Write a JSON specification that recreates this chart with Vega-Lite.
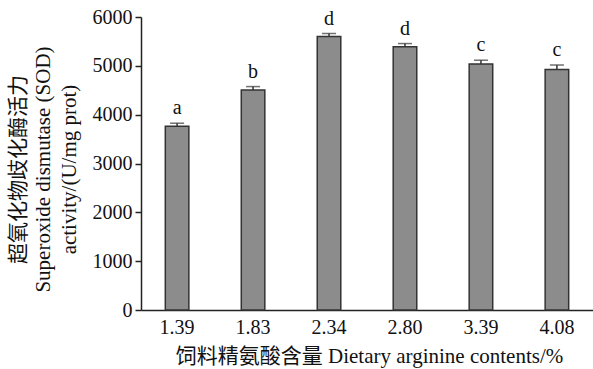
{
  "$schema": "https://vega.github.io/schema/vega-lite/v6.json",
  "width": 452,
  "height": 293,
  "autosize": {"type": "none"},
  "padding": {"left": 141, "top": 17, "right": 0, "bottom": 59},
  "background": "white",
  "data": {"values": [
    {"dose": "1.39", "sod": 3765, "err": 60, "sig": "a"},
    {"dose": "1.83", "sod": 4505, "err": 70, "sig": "b"},
    {"dose": "2.34", "sod": 5600, "err": 62, "sig": "d"},
    {"dose": "2.80", "sod": 5390, "err": 66, "sig": "d"},
    {"dose": "3.39", "sod": 5035, "err": 80, "sig": "c"},
    {"dose": "4.08", "sod": 4925, "err": 92, "sig": "c"}
  ]},
  "config": {
    "view": {"stroke": null},
    "font": "Liberation Serif, Noto Sans CJK SC",
    "axis": {"grid": false, "domainColor": "#222", "tickColor": "#222", "labelColor": "#111", "titleColor": "#111", "labelFont": "Liberation Serif", "titleFont": "Liberation Serif, Noto Sans CJK SC", "titleFontWeight": "normal", "labelFontSize": 20, "titleFontSize": 21, "domainWidth": 1.5, "tickWidth": 1.5}
  },
  "transform": [{"calculate": "datum.sod + datum.err", "as": "top"}],
  "encoding": {
    "x": {"field": "dose", "type": "nominal", "sort": null,
      "scale": {"paddingInner": 0.69, "paddingOuter": 0.32},
      "axis": {"title": "饲料精氨酸含量 Dietary arginine contents/%", "labelAngle": 0, "ticks": false, "labelPadding": 7, "titleX": 228, "titleY": 46, "titleBaseline": "middle", "titleAlign": "center"}}
  },
  "layer": [
    {
      "mark": {"type": "bar", "color": "#8c8c8c", "stroke": "#333", "strokeWidth": 1.5},
      "encoding": {
        "y": {"field": "sod", "type": "quantitative",
          "scale": {"domain": [0, 6000], "nice": false},
          "axis": {"values": [0, 1000, 2000, 3000, 4000, 5000, 6000], "format": "d", "tickSize": 6, "labelPadding": 3,
            "title": ["超氧化物歧化酶活力", "Superoxide dismutase (SOD)", "activity/(U/mg prot)"],
            "titleAngle": -90, "titleX": -134, "titleY": 152, "titleBaseline": "top", "titleAlign": "center", "titleLineHeight": 25.5}}
      }
    },
    {
      "mark": {"type": "rule", "color": "#333", "strokeWidth": 1.5},
      "encoding": {
        "y": {"field": "sod", "type": "quantitative"},
        "y2": {"field": "top"}
      }
    },
    {
      "mark": {"type": "tick", "color": "#333", "thickness": 1.5, "size": 14, "orient": "horizontal"},
      "encoding": {
        "y": {"field": "top", "type": "quantitative"}
      }
    },
    {
      "mark": {"type": "text", "fontSize": 20, "dy": -9, "baseline": "alphabetic", "color": "#111", "font": "Liberation Serif"},
      "encoding": {
        "y": {"field": "top", "type": "quantitative"},
        "text": {"field": "sig"}
      }
    }
  ]
}
